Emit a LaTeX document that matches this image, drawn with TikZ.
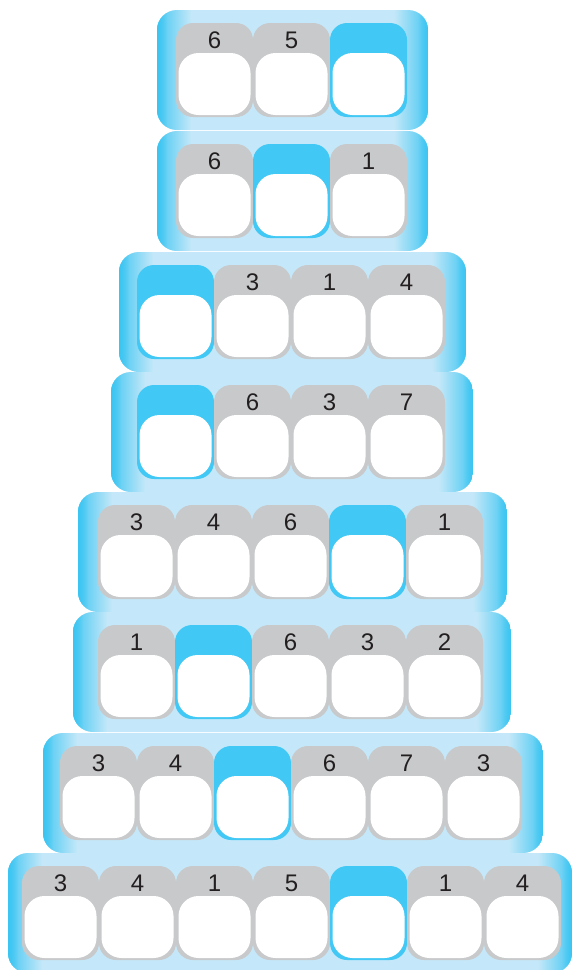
\documentclass[tikz,border=0pt]{standalone}
\usepackage{fontspec}
\usepackage{tikz}
\usetikzlibrary{calc, positioning, fadings}
\newfontfamily\digitfont{Liberation Sans}
\definecolor{trayblue}{RGB}{58,197,242}
\definecolor{traymid}{RGB}{196,232,249}
\definecolor{traylight}{RGB}{228,245,252}
\definecolor{cellgray}{RGB}{200,201,203}
\definecolor{cellblue}{RGB}{66,200,244}
\definecolor{digitgray}{RGB}{35,31,32}

\begin{document}
\begin{tikzpicture}[
    x=1pt, y=-1pt,
    cell/.style={rounded corners=17pt, minimum width=77pt, minimum height=94pt, inner sep=0pt,
        path picture={\fill[white, rounded corners=20pt]
            ($(path picture bounding box.south west)+(2.5pt,2pt)$) rectangle
            ($(path picture bounding box.north east)+(-2.5pt,-30pt)$);}},
    digit/.style={font=\digitfont\fontsize{24}{24}\selectfont, text=digitgray, inner sep=0pt},
]
    \useasboundingbox (0,0) rectangle (572,970);
    % row / tray top / tray left / tray right / first cell left / cells
    \foreach \r/\ty/\tl/\tr/\cx/\cells in {
        1/10/157/428/176/{cellgray/6,cellgray/5,cellblue/{}},
        2/131/157/428/176/{cellgray/6,cellblue/{},cellgray/1},
        3/252/119/466/137/{cellblue/{},cellgray/3,cellgray/1,cellgray/4},
        4/372/111/473/137/{cellblue/{},cellgray/6,cellgray/3,cellgray/7},
        5/492/78/507/98/{cellgray/3,cellgray/4,cellgray/6,cellblue/{},cellgray/1},
        6/612/73/511/98/{cellgray/1,cellblue/{},cellgray/6,cellgray/3,cellgray/2},
        7/733/43/543/60/{cellgray/3,cellgray/4,cellblue/{},cellgray/6,cellgray/7,cellgray/3},
        8/853/8/572/22/{cellgray/3,cellgray/4,cellgray/1,cellgray/5,cellblue/{},cellgray/1,cellgray/4}}
    {
        % tray
        \begin{scope}
            \clip[rounded corners=20pt] (\tl,\ty) rectangle (\tr,\ty+120);
            \shade[left color=traymid, middle color=traylight, right color=traymid] (\tl,\ty) rectangle (\tr,\ty+120);
            \fill[trayblue, opacity=0.9, path fading=east] (\tl,\ty) rectangle (\tl+34,\ty+120);
            \fill[trayblue, opacity=0.9, path fading=east] (\tl,\ty) rectangle (\tl+10,\ty+120);
            \fill[trayblue, opacity=0.9, path fading=west] (\tr-34,\ty) rectangle (\tr,\ty+120);
            \fill[trayblue, opacity=0.9, path fading=west] (\tr-10,\ty) rectangle (\tr,\ty+120);
        \end{scope}
        % cells
        \foreach \c/\d [count=\i] in \cells {
            \node[cell, fill=\c] (r\r-\i) at (\cx+77*\i-38.5, \ty+60) {};
            \node[digit, below=9pt of r\r-\i.north] (d\r-\i) {\d};
        }
    }
\end{tikzpicture}
\end{document}
